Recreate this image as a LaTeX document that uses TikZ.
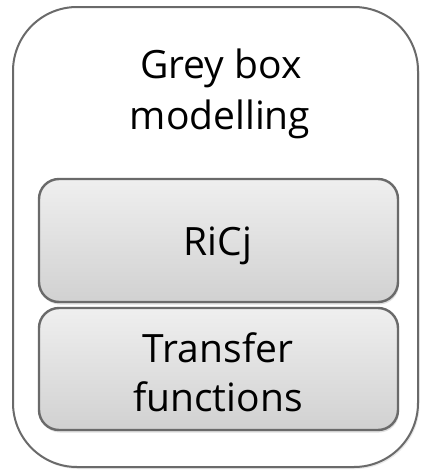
\documentclass[tikz,border=0pt]{standalone}
\usepackage{fontspec}
\setmainfont{Open Sans}
\usetikzlibrary{shadows}
\definecolor{edge}{HTML}{6A6A6A}
\definecolor{filltop}{HTML}{EFEFEF}
\definecolor{fillbot}{HTML}{D1D1D1}
\tikzset{
  outerbox/.style={draw=edge, line width=2pt, fill=white, rounded corners=64pt,
    drop shadow={opacity=0.18, shadow xshift=1.5pt, shadow yshift=-2pt}},
  itembox/.style={draw=edge, line width=2.4pt, rounded corners=20pt,
    top color=filltop, bottom color=fillbot,
    drop shadow={opacity=0.25, shadow xshift=1pt, shadow yshift=-2.5pt}},
  label/.style={anchor=base, align=center, font=\fontsize{39}{49}\selectfont, text=black}
}
\begin{document}
\begin{tikzpicture}[x=1pt, y=-1pt]
  \useasboundingbox (0,0) rectangle (421,471);
  % outer container
  \path[outerbox] (13,7) rectangle (418,467);
  % inner stacked boxes
  \path[itembox] (39,179) rectangle (398,302);
  \path[itembox] (39,308) rectangle (398,430);
  % texts
  \node[label] (title1) at (221,78) {Grey box};
  \node[label] (title2) at (220,129) {modelling};
  \node[label] (ricj) at (218,255) {RiCj};
  \node[label] (tf1) at (218,362) {Transfer};
  \node[label] (tf2) at (218,411) {functions};
\end{tikzpicture}
\end{document}
